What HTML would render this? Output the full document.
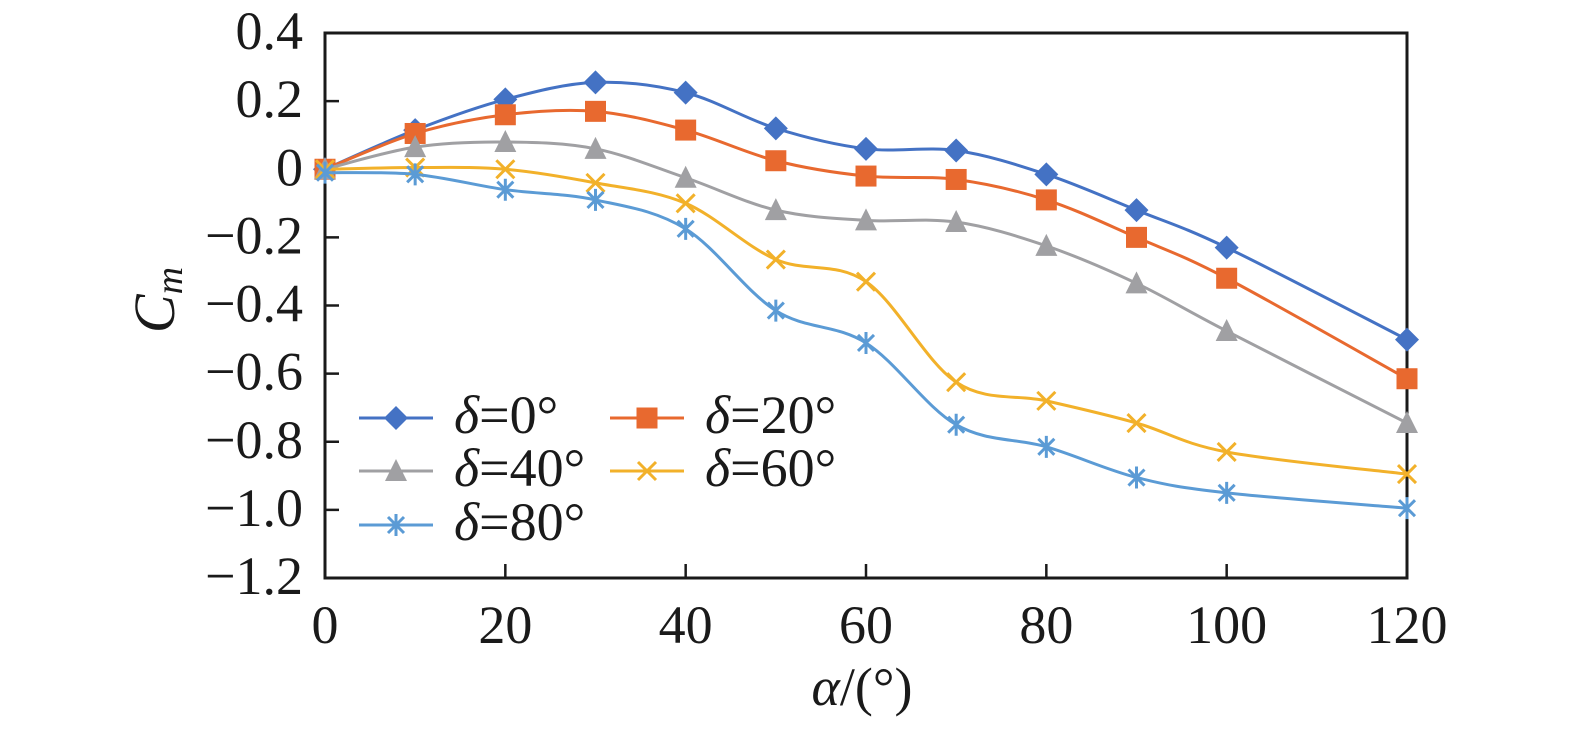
<!DOCTYPE html>
<html><head><meta charset="utf-8"><style>
html,body{margin:0;padding:0;background:#fff;}
svg text{font-family:"Liberation Serif",serif;fill:#1a1a1a;}
</style></head><body>
<svg id="c" width="1575" height="728" xmlns="http://www.w3.org/2000/svg"></svg>
<script>
const categories=[0,10,20,30,40,50,60,70,80,90,100,120];
const s0=[0,0.115,0.205,0.255,0.225,0.12,0.06,0.055,-0.015,-0.12,-0.23,-0.5];
const s20=[0,0.105,0.16,0.17,0.115,0.025,-0.02,-0.03,-0.09,-0.2,-0.32,-0.615];
const s40=[0,0.065,0.08,0.06,-0.025,-0.12,-0.15,-0.155,-0.225,-0.335,-0.475,-0.745];
const s60=[0,0.005,0,-0.04,-0.1,-0.265,-0.33,-0.625,-0.68,-0.745,-0.83,-0.895];
const s80=[-0.01,-0.015,-0.06,-0.09,-0.175,-0.415,-0.51,-0.75,-0.815,-0.905,-0.95,-0.995];
const xTicks=[0,20,40,60,80,100,120];
const yTicks=[0.4,0.2,0,-0.2,-0.4,-0.6,-0.8,-1.0,-1.2];
const yTickLabels=["0.4","0.2","0","\u22120.2","\u22120.4","\u22120.6","\u22120.8","\u22121.0","\u22121.2"];
const seriesNames=["δ=0°","δ=20°","δ=40°","δ=60°","δ=80°"];

const svg=document.getElementById('c');
const NS='http://www.w3.org/2000/svg';
const L=325,R=1407,T=33,B=578;
const X=v=>L+(v-0)/120*(R-L);
const Y=v=>T+(0.4-v)/1.6*(B-T);
function el(t,a,p){const e=document.createElementNS(NS,t);for(const k in a)e.setAttribute(k,a[k]);(p||svg).appendChild(e);return e;}

xTicks.forEach(v=>{
  const tk=el('line',{x1:X(v),x2:X(v),y1:B,y2:B-14,stroke:'#1a1a1a','stroke-width':2.5});
  
  
  const t=el('text',{x:X(v),y:643,'text-anchor':'middle','font-size':54});
  t.textContent=v;
  
  
});
yTicks.forEach((v,i)=>{
  const tk=el('line',{x1:L,x2:L+14,y1:Y(v),y2:Y(v),stroke:'#1a1a1a','stroke-width':2.5});
  
  
  const t=el('text',{x:L-22,y:Y(v)+16,'text-anchor':'end','font-size':54});
  t.textContent=yTickLabels[i];
  
  
});
const frame=el('rect',{x:L,y:T,width:R-L,height:B-T,fill:'none',stroke:'#1a1a1a','stroke-width':3});



const yl=el('text',{x:0,y:0,'font-size':58,'font-style':'italic','text-anchor':'middle',transform:'translate(174,300) rotate(-90)'});
yl.innerHTML='C<tspan font-size="38" dy="8">m</tspan>';


const xl=el('text',{x:862,y:705,'text-anchor':'middle','font-size':54});
xl.innerHTML='<tspan font-style="italic">α</tspan>/(°)';



const colors=['#4472C4','#E8692F','#A0A0A3','#F2B12A','#5B9BD5'];
const markers=['diamond','square','triangle','x','star'];
function marker(g,type,x,y,c){
  let m;
  if(type==='diamond')m=el('polygon',{points:`${x},${y-12} ${x+12},${y} ${x},${y+12} ${x-12},${y}`,fill:c},g);
  else if(type==='square')m=el('rect',{x:x-10.5,y:y-10.5,width:21,height:21,fill:c},g);
  else if(type==='triangle')m=el('polygon',{points:`${x},${y-12} ${x+11},${y+10} ${x-11},${y+10}`,fill:c},g);
  else if(type==='x')m=el('path',{d:`M${x-9},${y-9}L${x+9},${y+9}M${x+9},${y-9}L${x-9},${y+9}`,stroke:c,'stroke-width':3,fill:'none'},g);
  else m=el('path',{d:`M${x-8},${y-8}L${x+8},${y+8}M${x+8},${y-8}L${x-8},${y+8}M${x},${y-11}L${x},${y+11}`,stroke:c,'stroke-width':3,fill:'none'},g);
  
  
}
function smooth(pts){
  let d=`M${pts[0][0]},${pts[0][1]}`;
  for(let i=0;i<pts.length-1;i++){
    const p0=pts[i-1]||pts[i],p1=pts[i],p2=pts[i+1],p3=pts[i+2]||p2;
    const k=1/6;
    d+=`C${p1[0]+(p2[0]-p0[0])*k},${p1[1]+(p2[1]-p0[1])*k} ${p2[0]-(p3[0]-p1[0])*k},${p2[1]-(p3[1]-p1[1])*k} ${p2[0]},${p2[1]}`;
  }
  return d;
}
[s0,s20,s40,s60,s80].forEach((s,i)=>{
  const g=el('g',{});
  
  
  const pts=categories.map((c,j)=>[X(c),Y(s[j])]);
  const p=el('path',{d:smooth(pts),fill:'none',stroke:colors[i],'stroke-width':3},g);
  
  
  pts.forEach(q=>marker(g,markers[i],q[0],q[1],colors[i]));
});
const legPos=[[359,418],[610,418],[359,471],[610,471],[359,525]];
legPos.forEach((p,i)=>{
  const g=el('g',{});
  
  
  el('line',{x1:p[0],x2:p[0]+74,y1:p[1],y2:p[1],stroke:colors[i],'stroke-width':3},g);
  marker(g,markers[i],p[0]+37,p[1],colors[i]);
  const t=el('text',{x:p[0]+95,y:p[1]+15,'font-size':54},g);
  t.innerHTML='<tspan font-style="italic">δ</tspan>'+seriesNames[i].slice(1);
});
</script>
</body></html>
